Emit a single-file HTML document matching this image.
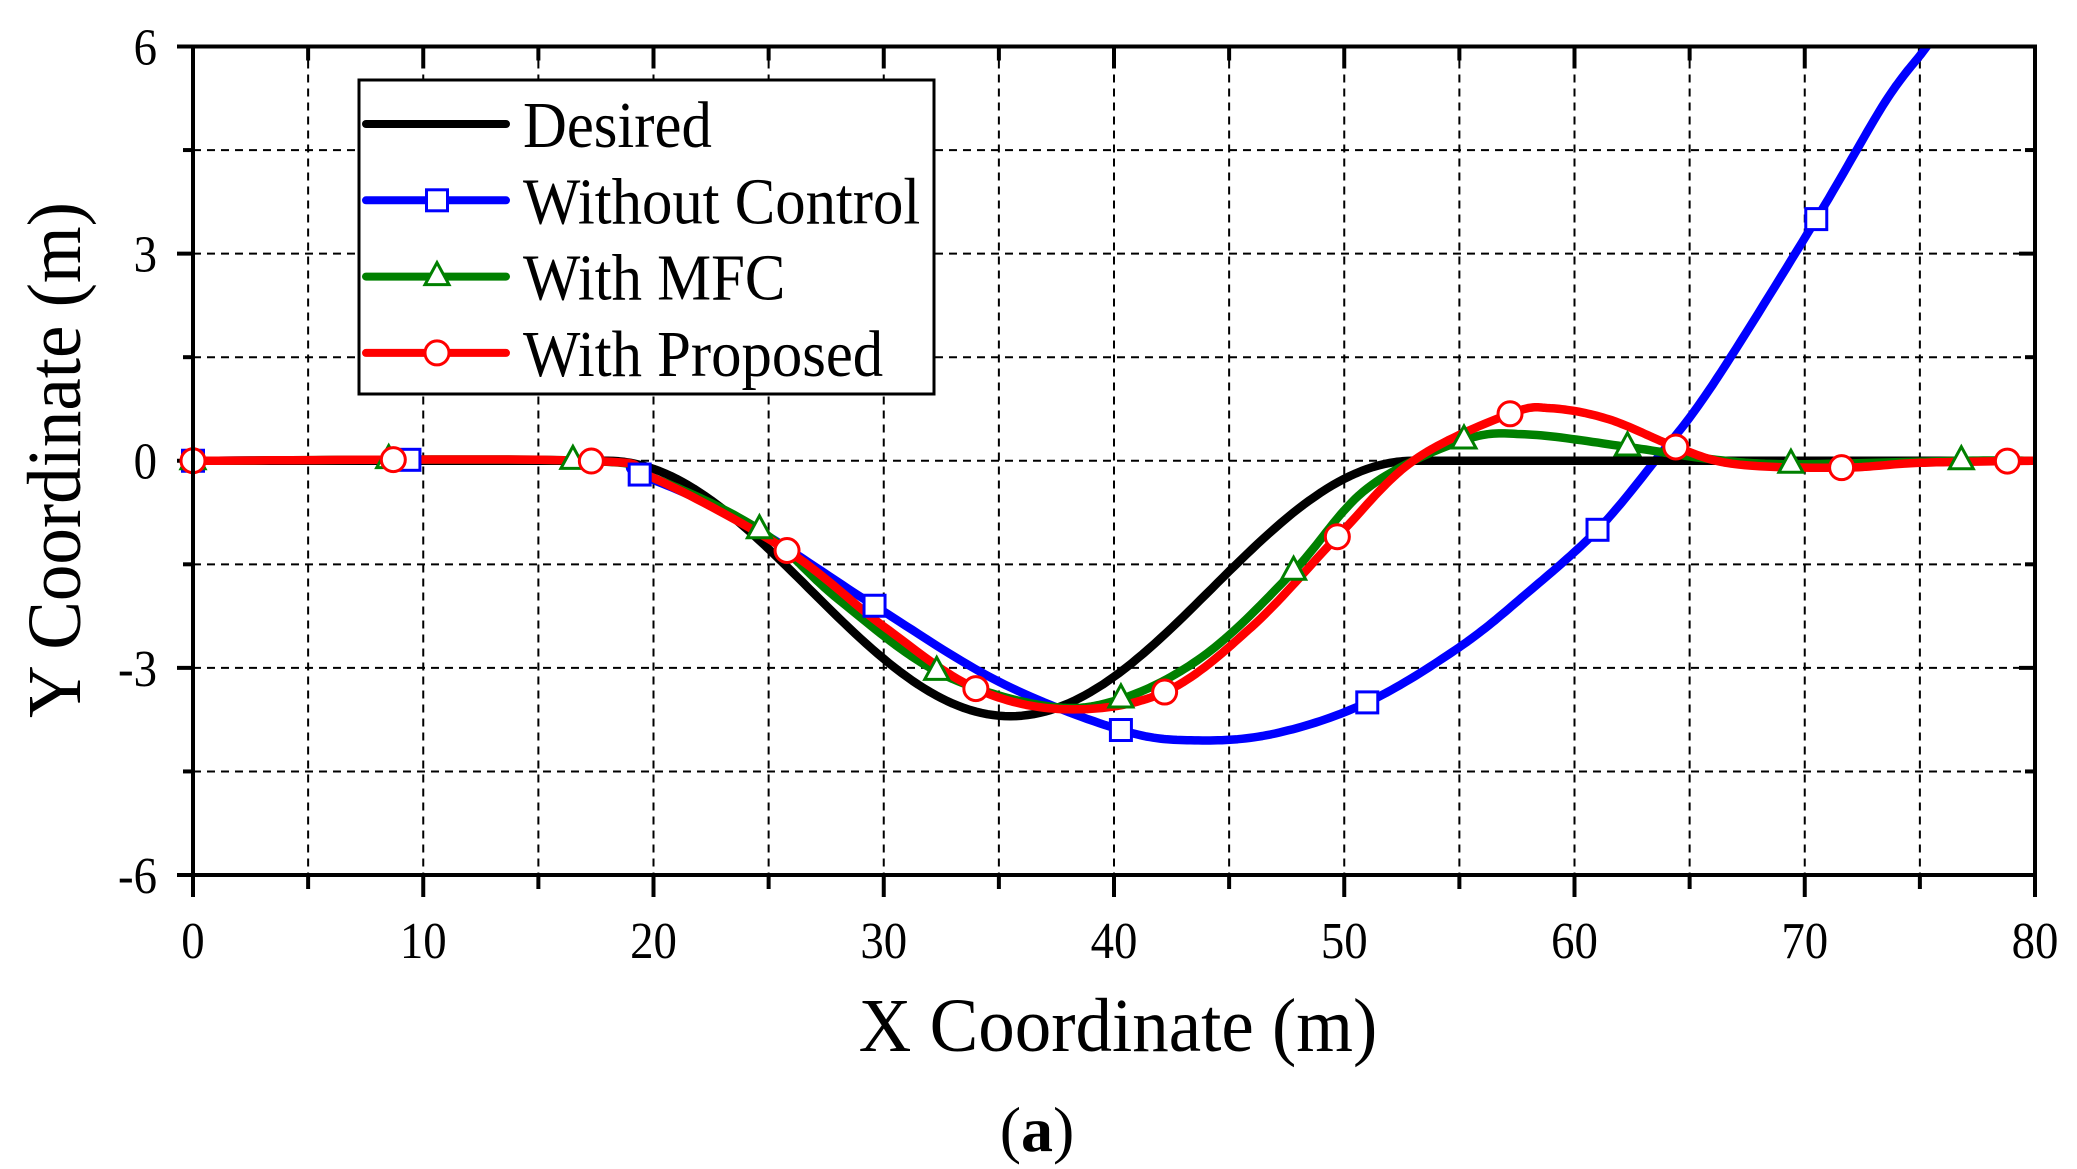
<!DOCTYPE html>
<html><head><meta charset="utf-8"><style>
html,body{margin:0;padding:0;background:#fff;}
svg{display:block;}
text{font-family:"Liberation Serif",serif;fill:#000;}
</style></head><body>
<svg id="s" width="2077" height="1169" xmlns="http://www.w3.org/2000/svg"></svg>
<script>
const S=document.getElementById('s');
const X0=193,X1=2035,Y6=46.5,Ym6=875;
const px=x=>X0+(X1-X0)*x/80, py=y=>Y6+(Ym6-Y6)*(6-y)/12;
let h='';
h+='<defs><clipPath id="c"><rect x="'+X0+'" y="'+Y6+'" width="'+(X1-X0)+'" height="'+(Ym6-Y6)+'"/></clipPath></defs>';
for(let x=5;x<80;x+=5)h+=`<line x1="${px(x)}" y1="${Y6}" x2="${px(x)}" y2="${Ym6}" stroke="#000" stroke-width="2" stroke-dasharray="8,6"/>`;
for(let y=-4.5;y<6;y+=1.5)h+=`<line x1="${X0}" y1="${py(y)}" x2="${X1}" y2="${py(y)}" stroke="#000" stroke-width="2" stroke-dasharray="8,6"/>`;
for(let x=0;x<=80;x+=5){const L=x%10==0?22:14;h+=`<line x1="${px(x)}" y1="${Ym6}" x2="${px(x)}" y2="${Ym6+L}" stroke="#000" stroke-width="4"/>`;h+=`<line x1="${px(x)}" y1="${Y6}" x2="${px(x)}" y2="${Y6+L}" stroke="#000" stroke-width="4"/>`;}
for(let y=-6;y<=6;y+=1.5){const L=(y%3==0)?16:10;h+=`<line x1="${X0-L}" y1="${py(y)}" x2="${X0}" y2="${py(y)}" stroke="#000" stroke-width="4"/>`;h+=`<line x1="${X1-L}" y1="${py(y)}" x2="${X1}" y2="${py(y)}" stroke="#000" stroke-width="4"/>`;}
for(let x=0;x<=80;x+=10)h+=`<text x="${px(x)}" y="958" font-size="52" text-anchor="middle" transform="translate(${px(x)},0) scale(0.9,1) translate(${-px(x)},0)">${x}</text>`;
for(let y=-6;y<=6;y+=3)h+=`<text x="157" y="${py(y)+18}" font-size="52" text-anchor="end" transform="translate(157,0) scale(0.9,1) translate(-157,0)">${y}</text>`;
function cr(pts,n){let out=[];for(let i=0;i<pts.length-1;i++){const p0=pts[Math.max(i-1,0)],p1=pts[i],p2=pts[i+1],p3=pts[Math.min(i+2,pts.length-1)];for(let k=0;k<n;k++){const t=k/n,t2=t*t,t3=t2*t;const f=(a,b,c,d)=>0.5*((2*b)+(-a+c)*t+(2*a-5*b+4*c-d)*t2+(-a+3*b-3*c+d)*t3);out.push([f(p0[0],p1[0],p2[0],p3[0]),f(p0[1],p1[1],p2[1],p3[1])]);}}out.push(pts[pts.length-1]);return out;}
function path(pts,col){return `<path d="M${pts.map(p=>px(p[0]).toFixed(1)+','+py(p[1]).toFixed(1)).join('L')}" fill="none" stroke="${col}" stroke-width="8.5" stroke-linejoin="round" clip-path="url(#c)"/>`;}
let des=[];for(let x=0;x<=80;x+=0.25){let y=0;if(x>18&&x<53)y=-3.7*(1-Math.cos(2*Math.PI*(x-18)/35))/2;des.push([x,y]);}
const blue=[[0,0],[17,0],[19.4,-0.2],[24,-0.9],[29.6,-2.1],[35,-3.2],[40.3,-3.9],[43.5,-4.05],[47,-3.95],[51,-3.5],[55,-2.7],[58,-1.9],[61,-1.0],[63.5,0],[66,1.1],[70.5,3.5],[73.5,5.2],[75.3,6.0],[77,6.8]];
const green=[[0,0],[17,0],[20,-0.25],[24.6,-1.0],[28,-2.0],[32.3,-3.05],[37,-3.55],[40.3,-3.45],[44,-2.8],[47.8,-1.6],[51,-0.4],[55.2,0.3],[58,0.38],[62.3,0.2],[66,0.02],[69.4,-0.05],[76.8,0],[80,0]];
const red=[[0,0],[17,0],[20,-0.25],[25.8,-1.3],[30,-2.4],[34,-3.3],[38,-3.6],[42.2,-3.35],[46,-2.4],[49.7,-1.1],[53,0],[57.2,0.68],[59,0.76],[61.5,0.6],[64.4,0.2],[67,-0.05],[71.6,-0.1],[75,-0.03],[80,0]];
const bluec=cr(blue,20),greenc=cr(green,20),redc=cr(red,20);
function at(c,x){for(let i=0;i<c.length-1;i++)if(c[i][0]<=x&&c[i+1][0]>=x){const t=(x-c[i][0])/(c[i+1][0]-c[i][0]||1);return c[i][1]+t*(c[i+1][1]-c[i][1]);}return 0;}
const sq=(x,y,c)=>`<rect x="${x-10.5}" y="${y-10.5}" width="21" height="21" fill="#fff" stroke="${c}" stroke-width="3"/>`;
const tri=(x,y,c)=>`<polygon points="${x},${y-14} ${x-12},${y+8} ${x+12},${y+8}" fill="#fff" stroke="${c}" stroke-width="3"/>`;
const cir=(x,y,c)=>`<circle cx="${x}" cy="${y}" r="12" fill="#fff" stroke="${c}" stroke-width="3"/>`;
h+=path(bluec,'#0000ff');
h+=path(des,'#000');
h+=path(greenc,'#008000');
h+=path(redc,'#ff0000');
[0,9.4,19.4,29.6,40.3,51,61,70.5].forEach(x=>h+=sq(px(x),py(at(bluec,x)),'#0000ff'));
[0,8.5,16.5,24.6,32.3,40.3,47.8,55.2,62.3,69.4,76.8].forEach(x=>h+=tri(px(x),py(at(greenc,x)),'#008000'));
[0,8.7,17.3,25.8,34,42.2,49.7,57.2,64.4,71.6,78.8].forEach(x=>h+=cir(px(x),py(at(redc,x)),'#ff0000'));
h+=`<rect x="${X0}" y="${Y6}" width="${X1-X0}" height="${Ym6-Y6}" fill="none" stroke="#000" stroke-width="4"/>`;
h+=`<rect x="359" y="80" width="575" height="314" fill="#fff" stroke="#000" stroke-width="3"/>`;
const L=[['Desired','#000',null],['Without Control','#0000ff',sq],['With MFC','#008000',tri],['With Proposed','#ff0000',cir]];
L.forEach((e,i)=>{const y=124+i*76.3;h+=`<line x1="366" y1="${y}" x2="506" y2="${y}" stroke="${e[1]}" stroke-width="8" stroke-linecap="round"/>`;if(e[2])h+=e[2](437,y,e[1]);h+=`<text x="523" y="${y+23}" font-size="66" transform="translate(523,0) scale(0.92,1) translate(-523,0)">${e[0]}</text>`;});
h+=`<text x="1118" y="1051" font-size="76" text-anchor="middle" transform="translate(1118,0) scale(0.96,1) translate(-1118,0)">X Coordinate (m)</text>`;
h+=`<text x="0" y="0" font-size="76" text-anchor="middle" transform="translate(80,460) rotate(-90) scale(0.96,1)">Y Coordinate (m)</text>`;
h+=`<text x="1037" y="1151" font-size="64" text-anchor="middle">(<tspan font-weight="bold">a</tspan>)</text>`;
S.innerHTML=h;
</script>
</body></html>
